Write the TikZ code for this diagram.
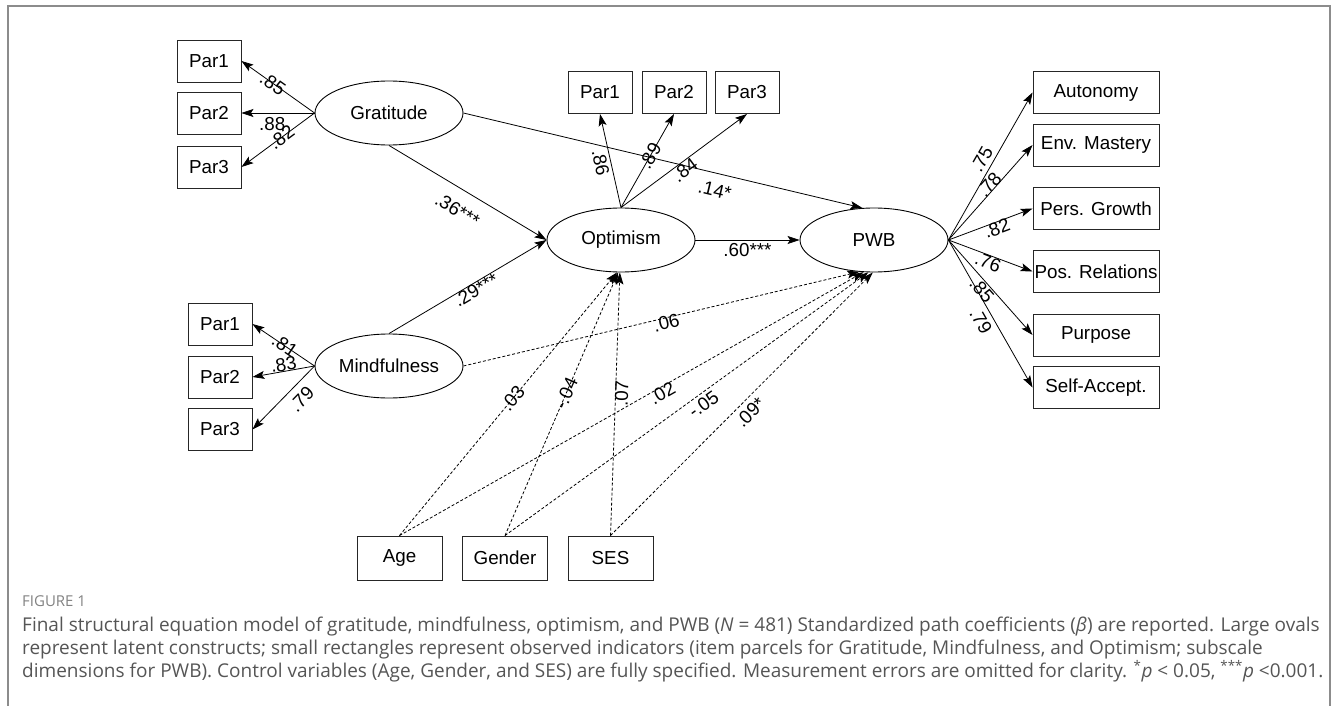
\documentclass[tikz,border=0pt]{standalone}
\usepackage{fontspec}
\setmainfont{Liberation Sans}
\newfontfamily\capfont{Open Sans}
\usetikzlibrary{shapes.geometric,arrows.meta}
\definecolor{framegray}{RGB}{140,140,140}
\definecolor{capgray}{RGB}{85,85,85}
\definecolor{figgray}{RGB}{130,130,130}

\begin{document}
\begin{tikzpicture}[x=1pt, y=-1pt, font=\fontsize{18.8}{22}\selectfont,
>={Stealth[length=12pt,width=8pt,inset=2.5pt]},
block/.style = {rectangle, draw=black!85, line width=0.9pt, minimum width=64pt, minimum height=42pt, inner sep=0pt},
wide/.style = {block, minimum width=126pt},
ctrl/.style = {block, minimum width=85pt, minimum height=44pt},
latent/.style = {ellipse, draw=black, line width=0.9pt, minimum width=148pt, minimum height=64pt, inner sep=0pt},
arr/.style = {->, line width=0.8pt},
darr/.style = {->, line width=0.8pt, dash pattern=on 3pt off 2pt},
coef/.style = {sloped, inner sep=1pt},
captxt/.style = {capgray, anchor=base west, inner sep=0pt, font=\capfont\fontsize{19}{23}\selectfont}]
\useasboundingbox (0,0) rectangle (1336,706);
\draw [framegray, line width=1.5pt] (8,706) -- (8,6) -- (1330,6) -- (1330,706);

\node[latent] at (389,113) (grat) {Gratitude};
\node[latent] at (389,366) (mind) {Mindfulness};
\node[latent] at (621,240) (opt) {Optimism};
\node[latent] at (874,240) (pwb) {PWB};

\node[block] at (209,61) (g1) {Par1};
\node[block] at (209,113) (g2) {Par2};
\node[block] at (209,167) (g3) {Par3};
\node[block] at (220,324) (m1) {Par1};
\node[block] at (220,377) (m2) {Par2};
\node[block] at (220,429.5) (m3) {Par3};
\node[block] at (600,92.5) (o1) {Par1};
\node[block] at (674,92.5) (o2) {Par2};
\node[block] at (747,92.5) (o3) {Par3};

\node[wide] at (1096,92.5) (p1) {Autonomy};
\node[wide] at (1096,145) (p2) {Env. Mastery};
\node[wide] at (1096,208.5) (p3) {Pers. Growth};
\node[wide] at (1096,271.5) (p4) {Pos. Relations};
\node[wide] at (1096,335) (p5) {Purpose};
\node[wide] at (1096,387.5) (p6) {Self-Accept.};

\node[ctrl] at (399.5,558) (age) {Age};
\node[ctrl] at (505,558) (gend) {Gender};
\node[ctrl] at (610.5,558) (ses) {SES};

\draw [arr] (grat.west) -- (g1.east) node[coef, pos=.57] {.85};
\draw [arr] (grat.west) -- (g2.east) node[coef, pos=.58, below=3pt] {.88};
\draw [arr] (grat.west) -- (g3.east) node[coef, pos=.45] {.82};
\draw [arr] (mind.west) -- (m1.east) node[coef, pos=.48] {.81};
\draw [arr] (mind.west) -- (m2.east) node[coef, pos=.48, above=-1pt] {.83};
\draw [arr] (mind.west) -- (m3.east) node[coef, pos=.37, below=6pt] {.79};
\draw [arr] (opt.north) -- (o1.south) node[coef, pos=.5, below=2pt] {.86};
\draw [arr] (opt.north) -- (o2.south) node[coef, pos=.55] {.89};
\draw [arr] (opt.north) -- (o3.south) node[coef, pos=.47, below=0pt] {.84};

\draw [arr] (pwb.east) -- (p1.west) node[coef, pos=.51, above=3pt] {.75};
\draw [arr] (pwb.east) -- (p2.west) node[coef, pos=.54, above=-2pt] {.78};
\draw [arr] (pwb.east) -- (p3.west) node[coef, pos=.55, below=-2pt] {.82};
\draw [arr] (pwb.east) -- (p4.west) node[coef, pos=.5, below=-1pt] {.76};
\draw [arr] (pwb.east) -- (p5.west) node[coef, pos=.47, below=0pt] {.85};
\draw [arr] (pwb.east) -- (p6.west) node[coef, pos=.51, below=4pt] {.79};

\draw [arr] (grat.south) -- (opt.west) node[coef, pos=.5, below=12pt] {.36***};
\draw [arr] (mind.north) -- (opt.west) node[coef, pos=.53, below=-1pt] {.29***};
\draw [arr] (grat.east) -- (pwb.110) node[coef, pos=.64, below=9pt] {.14*};
\draw [arr] (opt.east) -- (pwb.west) node[coef, pos=.5, below=2pt] {.60***};

\draw [darr] (mind.east) -- (pwb.-115) node[coef, pos=.51, below=-3pt] {.06};
\draw [darr] (age.north) -- (opt.-97) node[coef, pos=.52] {.03};
\draw [darr] (gend.north) -- (opt.-95) node[coef, pos=.54] {-.04};
\draw [darr] (ses.north) -- (opt.-92) node[coef, pos=.54, below=-2pt] {.07};
\draw [darr] (age.north) -- (pwb.-108) node[coef, pos=.56, below=-2pt] {.02};
\draw [darr] (gend.north) -- (pwb.-100) node[coef, pos=.53, below=2pt] {-.05};
\draw [darr] (ses.north) -- (pwb.-92) node[coef, pos=.5, below=4pt] {.09*};

\node[figgray, anchor=base west, inner sep=0pt, font=\capfont\fontsize{15}{18}\selectfont] at (22,606) (fig) {FIGURE 1};
\node[captxt] at (22,631) (cap1) {Final structural equation model of gratitude, mindfulness, optimism, and PWB (\textit{N} = 481) Standardized path coefficients (\textit{β}) are reported. Large ovals};
\node[captxt] at (22,654) (cap2) {represent latent constructs; small rectangles represent observed indicators (item parcels for Gratitude, Mindfulness, and Optimism; subscale};
\node[captxt] at (22,677) (cap3) {dimensions for PWB). Control variables (Age, Gender, and SES) are fully specified. Measurement errors are omitted for clarity. \textsuperscript{*}\textit{p} < 0.05, \textsuperscript{***}\textit{p} <0.001.};
\end{tikzpicture}
\end{document}
